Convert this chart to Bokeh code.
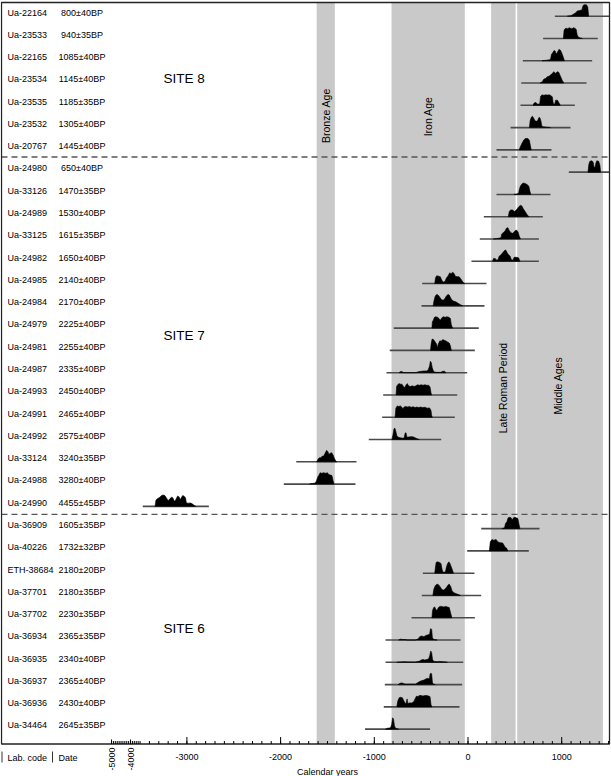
import math
from bokeh.plotting import figure
from bokeh.models import Range1d, Label
from bokeh.core.properties import value
from bokeh.embed import file_html
from bokeh.resources import INLINE

# ---------------- data ----------------
lab_codes = ["Ua-22164", "Ua-23533", "Ua-22165", "Ua-23534", "Ua-23535", "Ua-23532", "Ua-20767",
             "Ua-24980", "Ua-33126", "Ua-24989", "Ua-33125", "Ua-24982", "Ua-24985", "Ua-24984",
             "Ua-24979", "Ua-24981", "Ua-24987", "Ua-24993", "Ua-24991", "Ua-24992", "Ua-33124",
             "Ua-24988", "Ua-24990",
             "Ua-36909", "Ua-40226", "ETH-38684", "Ua-37701", "Ua-37702", "Ua-36934", "Ua-36935",
             "Ua-36937", "Ua-36936", "Ua-34464"]
dates = ["800±40BP", "940±35BP", "1085±40BP", "1145±40BP", "1185±35BP", "1305±40BP", "1445±40BP",
         "650±40BP", "1470±35BP", "1530±40BP", "1615±35BP", "1650±40BP", "2140±40BP", "2170±40BP",
         "2225±40BP", "2255±40BP", "2335±40BP", "2450±40BP", "2465±40BP", "2575±40BP", "3240±35BP",
         "3280±40BP", "4455±45BP",
         "1605±35BP", "1732±32BP", "2180±20BP", "2180±35BP", "2230±35BP", "2365±35BP", "2340±40BP",
         "2365±40BP", "2430±40BP", "2645±35BP"]
range_start = [927, 802, 585, 568, 560, 454, 304,
               1076, 304, 169, 126, 37, -489, -496, -792, -835, -870, -905, -916, -1059, -1833, -1966, -3471,
               141, -9, -482, -493, -603, -880, -880, -888, -899, -1099]
range_end = [1510, 1385, 1325, 1265, 1140, 1094, 891,
             1510, 880, 798, 756, 756, 197, 176, 115, 73, -9, -115, -141, -286, -1190, -1201, -2766,
             763, 649, 69, 141, 73, -80, -51, -62, -91, -405]

# calibrated probability profiles (calendar year, relative density)
site8_profiles = [
    [(1060, 0), (1100, 0.05), (1150, 0.3), (1165, 0.45), (1190, 0.5), (1215, 0.55), (1228, 0.95), (1240, 1.0), (1265, 1.0), (1278, 0.8), (1288, 0)],
    [(1018, 0), (1025, 0.7), (1035, 0.85), (1050, 0.9), (1065, 0.85), (1080, 0.95), (1095, 0.9), (1110, 0.85), (1125, 0.95), (1140, 0.9), (1155, 0.8), (1165, 0.3), (1180, 0.1), (1200, 0.05), (1220, 0)],
    [(790, 0), (840, 0.05), (880, 0.1), (892, 0.6), (905, 0.7), (918, 0.9), (930, 0.85), (942, 0.6), (955, 0.75), (970, 1.0), (985, 0.95), (1000, 0.7), (1015, 0.35), (1030, 0)],
    [(770, 0), (790, 0.1), (810, 0.35), (828, 0.4), (845, 0.55), (865, 0.6), (881, 0.7), (899, 0.85), (916, 1.0), (934, 0.85), (952, 1.0), (968, 0.95), (987, 0.6), (1005, 0.25), (1023, 0)],
    [(695, 0), (705, 0.2), (725, 0.25), (742, 0.1), (765, 0.12), (775, 0.8), (790, 0.92), (810, 0.88), (830, 0.92), (850, 0.9), (870, 0.92), (885, 0.85), (900, 0.75), (910, 0.15), (925, 0.1), (935, 0.45), (955, 0.45), (972, 0.2), (985, 0)],
    [(655, 0), (663, 0.6), (675, 0.9), (688, 1.0), (700, 0.85), (715, 0.6), (730, 0.55), (745, 0.65), (758, 0.9), (768, 0.85), (778, 0.6), (788, 0.15), (800, 0.08), (840, 0.04), (880, 0)],
    [(545, 0), (560, 0.3), (580, 0.65), (598, 0.9), (612, 1.0), (640, 1.0), (655, 0.85), (665, 0.4), (675, 0)],
]
site7_profiles = [
    [(1280, 0), (1290, 0.7), (1300, 0.95), (1320, 1.0), (1335, 0.9), (1345, 0.45), (1355, 0.4), (1365, 0.8), (1375, 1.0), (1395, 0.95), (1408, 0.6), (1415, 0)],
    [(490, 0), (520, 0.03), (540, 0.1), (548, 0.45), (560, 0.75), (578, 0.95), (595, 1.0), (615, 0.95), (635, 0.85), (650, 0.7), (660, 0.3), (670, 0)],
    [(430, 0), (440, 0.45), (455, 0.6), (475, 0.6), (495, 0.45), (510, 0.55), (530, 0.75), (545, 0.9), (560, 1.0), (575, 0.95), (590, 0.7), (610, 0.45), (630, 0.2), (650, 0)],
    [(270, 0), (300, 0.03), (335, 0.08), (352, 0.12), (360, 0.45), (375, 0.55), (395, 0.7), (410, 0.95), (425, 1.0), (440, 0.75), (458, 0.55), (475, 0.5), (490, 0.6), (505, 0.75), (520, 0.78), (535, 0.6), (545, 0.3), (560, 0)],
    [(262, 0), (272, 0.25), (290, 0.25), (305, 0.1), (322, 0.15), (332, 0.45), (350, 0.55), (370, 0.75), (390, 0.95), (402, 1.0), (415, 0.8), (430, 0.6), (450, 0.45), (462, 0.15), (480, 0.1), (492, 0.35), (515, 0.35), (540, 0.3), (555, 0)],
    [(-355, 0), (-347, 0.5), (-335, 0.68), (-315, 0.65), (-295, 0.6), (-280, 0.3), (-262, 0.12), (-245, 0.2), (-230, 0.5), (-215, 0.65), (-195, 0.95), (-180, 0.85), (-165, 1.0), (-150, 0.9), (-135, 0.65), (-115, 0.6), (-95, 0.6), (-80, 0.45), (-60, 0.2), (-45, 0.05), (-35, 0)],
    [(-372, 0), (-363, 0.45), (-350, 0.85), (-335, 1.0), (-320, 0.95), (-300, 0.75), (-285, 0.55), (-265, 0.5), (-250, 0.6), (-232, 0.85), (-215, 1.0), (-200, 0.95), (-185, 0.7), (-170, 0.5), (-150, 0.4), (-130, 0.35), (-110, 0.25), (-90, 0.15), (-70, 0.05), (-55, 0)],
    [(-385, 0), (-380, 0.55), (-370, 0.7), (-358, 0.95), (-345, 1.0), (-325, 0.95), (-310, 0.85), (-295, 0.7), (-280, 0.9), (-265, 1.0), (-245, 0.95), (-225, 1.0), (-205, 0.95), (-188, 0.85), (-178, 0.3), (-165, 0)],
    [(-400, 0), (-393, 0.6), (-383, 1.0), (-368, 0.95), (-350, 0.75), (-335, 0.55), (-325, 0.25), (-315, 0.6), (-300, 0.85), (-285, 0.8), (-270, 0.95), (-255, 0.9), (-240, 0.85), (-220, 0.75), (-200, 0.65), (-188, 0.4), (-178, 0)],
    [(-735, 0), (-720, 0.1), (-700, 0.08), (-685, 0), (-560, 0), (-530, 0.08), (-500, 0.12), (-470, 0.15), (-440, 0.15), (-422, 0.3), (-410, 0.6), (-402, 1.0), (-392, 0.9), (-382, 0.45), (-370, 0.15), (-355, 0.05), (-330, 0.03), (-290, 0.03), (-270, 0.12), (-250, 0.12), (-235, 0)],
    [(-768, 0), (-762, 0.75), (-750, 0.9), (-738, 1.0), (-720, 0.95), (-705, 0.95), (-690, 0.75), (-675, 0.65), (-660, 0.9), (-648, 1.0), (-635, 0.8), (-615, 0.75), (-595, 0.8), (-575, 0.75), (-555, 0.8), (-540, 0.9), (-520, 0.85), (-500, 0.9), (-480, 0.85), (-460, 0.9), (-440, 0.85), (-420, 0.85), (-405, 0.7), (-395, 0.2), (-388, 0)],
    [(-778, 0), (-770, 0.8), (-755, 1.0), (-740, 0.95), (-722, 1.0), (-708, 0.9), (-695, 0.75), (-682, 0.9), (-665, 0.95), (-645, 0.9), (-625, 0.95), (-605, 0.88), (-585, 0.92), (-565, 0.85), (-545, 0.9), (-525, 0.85), (-505, 0.9), (-485, 0.85), (-460, 0.88), (-435, 0.8), (-410, 0.82), (-395, 0.6), (-387, 0.1), (-380, 0)],
    [(-812, 0), (-800, 0.45), (-790, 0.95), (-780, 1.0), (-770, 0.7), (-760, 0.35), (-745, 0.2), (-720, 0.15), (-700, 0.12), (-680, 0.15), (-672, 0.55), (-662, 0.6), (-652, 0.2), (-635, 0.22), (-615, 0.25), (-595, 0.25), (-575, 0.2), (-555, 0.12), (-535, 0.04), (-520, 0)],
    [(-1615, 0), (-1600, 0.25), (-1585, 0.35), (-1570, 0.35), (-1555, 0.5), (-1540, 0.5), (-1525, 0.75), (-1510, 1.0), (-1495, 0.9), (-1485, 0.65), (-1470, 0.75), (-1455, 0.8), (-1440, 0.6), (-1425, 0.3), (-1410, 0.05), (-1400, 0)],
    [(-1690, 0), (-1660, 0.05), (-1635, 0.08), (-1618, 0.25), (-1605, 0.6), (-1590, 0.8), (-1578, 1.0), (-1560, 0.95), (-1540, 1.0), (-1520, 0.95), (-1500, 1.0), (-1488, 0.85), (-1470, 0.8), (-1452, 0.75), (-1440, 0.3), (-1430, 0)],
    [(-3340, 0), (-3330, 0.55), (-3310, 0.7), (-3290, 0.8), (-3270, 0.95), (-3255, 1.0), (-3235, 0.95), (-3215, 0.7), (-3200, 0.5), (-3185, 0.65), (-3165, 0.8), (-3150, 0.75), (-3135, 0.45), (-3120, 0.55), (-3100, 0.9), (-3085, 0.85), (-3070, 0.6), (-3060, 0.75), (-3045, 0.95), (-3030, 0.9), (-3015, 0.75), (-3005, 0.3), (-2985, 0.28), (-2960, 0.3), (-2940, 0.2), (-2920, 0.08), (-2905, 0)],
]
site6_profiles = [
    [(362, 0), (390, 0.08), (400, 0.45), (415, 0.6), (428, 0.95), (445, 1.0), (460, 0.95), (472, 0.75), (485, 0.95), (500, 1.0), (515, 0.95), (532, 0.9), (545, 0.35), (555, 0)],
    [(228, 0), (238, 0.8), (255, 1.0), (275, 0.95), (300, 1.0), (318, 0.8), (335, 0.75), (350, 0.72), (370, 0.7), (388, 0.45), (400, 0.3), (412, 0.25), (425, 0)],
    [(-355, 0), (-348, 0.5), (-340, 0.95), (-325, 1.0), (-305, 0.95), (-288, 0.85), (-278, 0.4), (-268, 0.1), (-255, 0.08), (-240, 0.15), (-230, 0.55), (-220, 0.8), (-205, 1.0), (-195, 0.9), (-180, 0.6), (-167, 0.3), (-155, 0)],
    [(-375, 0), (-365, 0.55), (-350, 0.85), (-330, 1.0), (-315, 0.95), (-300, 0.8), (-285, 0.6), (-265, 0.45), (-250, 0.55), (-235, 0.65), (-215, 0.9), (-200, 1.0), (-185, 0.8), (-170, 0.4), (-150, 0.25), (-125, 0.15), (-100, 0.08), (-80, 0)],
    [(-385, 0), (-378, 0.65), (-366, 0.9), (-355, 0.95), (-342, 0.7), (-332, 0.65), (-315, 0.9), (-300, 1.0), (-280, 1.0), (-260, 0.95), (-240, 1.0), (-220, 0.95), (-200, 0.9), (-188, 0.5), (-172, 0)],
    [(-740, 0), (-722, 0.08), (-700, 0.05), (-670, 0.05), (-650, 0), (-560, 0), (-530, 0.12), (-515, 0.3), (-495, 0.35), (-470, 0.3), (-450, 0.4), (-432, 0.45), (-410, 0.5), (-400, 1.0), (-388, 0.95), (-380, 0.2), (-365, 0.05), (-330, 0)],
    [(-760, 0), (-720, 0.03), (-680, 0.04), (-640, 0.03), (-560, 0.02), (-520, 0.1), (-500, 0.2), (-480, 0.25), (-460, 0.2), (-440, 0.25), (-420, 0.3), (-408, 0.6), (-398, 1.0), (-388, 0.85), (-378, 0.2), (-360, 0.08), (-330, 0.05), (-300, 0.08), (-270, 0.05), (-240, 0.03), (-220, 0)],
    [(-745, 0), (-725, 0.12), (-705, 0.15), (-690, 0.1), (-670, 0.05), (-650, 0.05), (-620, 0.05), (-560, 0.05), (-530, 0.2), (-510, 0.3), (-490, 0.35), (-470, 0.4), (-450, 0.5), (-430, 0.55), (-412, 0.5), (-405, 0.9), (-398, 1.0), (-388, 0.95), (-380, 0.2), (-368, 0.03), (-350, 0)],
    [(-760, 0), (-750, 0.5), (-735, 0.8), (-720, 0.85), (-700, 0.8), (-685, 0.55), (-670, 0.3), (-660, 0.35), (-650, 0.7), (-642, 0.3), (-625, 0.35), (-600, 0.35), (-580, 0.45), (-565, 0.7), (-550, 0.95), (-535, 0.9), (-520, 1.0), (-500, 1.0), (-480, 0.95), (-460, 1.0), (-440, 1.0), (-420, 0.95), (-405, 0.9), (-395, 0.2), (-385, 0)],
    [(-880, 0), (-860, 0.08), (-840, 0.1), (-825, 0.15), (-815, 0.4), (-805, 1.0), (-795, 0.9), (-785, 0.3), (-775, 0.1), (-760, 0.03), (-740, 0)],
]
site_names = ["SITE 8", "SITE 7", "SITE 6"]
period_names = ["Bronze Age", "Iron Age", "Late Roman Period", "Middle Ages"]
period_start = [-1615, -816, 247, 525]
period_end = [-1421, -34, 508, 1440]
major_ticks = [-3000, -2000, -1000, 0, 1000]
compressed_tick_labels = [-5000, -4000]

# ---------------- layout (pixel geometry of the page) ----------------
FONT = "Liberation Sans"
W, H = 611, 776
PX_PER_YEAR = 0.0937
ZERO_PX = 467.5          # page x of year 0
ROW_PX = 22.28           # vertical distance between rows
ROW0_PX = 15.7           # page y of the first baseline


def dx(px):
    return (px - ZERO_PX) / PX_PER_YEAR


def dy(py):
    return (py - ROW0_PX) / ROW_PX


BOX_L, BOX_R, BOX_T, BOX_B = dx(1), dx(609), dy(2), dy(743.5)
COMPRESS = 0.203  # broken-axis scale for the -5000..-3500 stretch


def compressed(yr):
    return -3500 + (yr + 3500) * COMPRESS


PEAK = 0.51  # row units for relative density 1.0

p = figure(width=W, height=H, output_backend="svg", toolbar_location=None,
           x_range=Range1d(dx(0), dx(W)), y_range=Range1d(dy(H), dy(0)),
           min_border=0, x_axis_location=None, y_axis_location=None)
p.grid.visible = False
p.outline_line_color = None
p.background_fill_color = "white"
p.border_fill_color = "white"

# period bands
p.quad(left=period_start, right=period_end, bottom=BOX_B, top=BOX_T,
       fill_color="#c9c9c9", line_color=None)

# range lines and profiles
profiles = site8_profiles + site7_profiles + site6_profiles
rows = list(range(len(lab_codes)))
p.segment(x0=range_start, x1=range_end, y0=rows, y1=rows, line_color="#4a4a4a", line_width=1.6)
xs = [[pt[0] for pt in prof] for prof in profiles]
ys = [[r - pt[1] * PEAK for pt in prof] for r, prof in zip(rows, profiles)]
p.patches(xs=xs, ys=ys, fill_color="black", line_color="black", line_width=0.6)

# site separators
seps = [6.32, 22.36]
p.segment(x0=[BOX_L] * 2, x1=[BOX_R] * 2, y0=seps, y1=seps, line_color="#555555",
          line_dash="6 4", line_width=1.3)

# plot box (frame) with axis line at its bottom
p.quad(left=[BOX_L], right=[BOX_R], top=[BOX_T], bottom=[BOX_B], fill_color=None,
       line_color="#222222", line_width=1.3)

# table labels
TXT_DY = 3.7 / ROW_PX
p.text(x=[dx(7)] * len(rows), y=[r - TXT_DY for r in rows], text=lab_codes,
       text_font=value(FONT), text_font_size="9px", text_baseline="middle", text_align="left",
       text_color="black")
p.text(x=[dx(81.5)] * len(rows), y=[r - TXT_DY for r in rows], text=dates,
       text_font=value(FONT), text_font_size="9px", text_baseline="middle", text_align="center",
       text_color="black")

# site names
p.text(x=[dx(163)] * 3, y=[2.80, 14.33, 27.48], text=site_names,
       text_font=value(FONT), text_font_size="13.5px", text_baseline="middle", text_align="left",
       text_color="black")

# period names (vertical)
period_label_rows = [4.46, 4.5, 16.69, 16.58]
period_label_shift = [0, 0, 0, -25]
for name, s, e, r, sh in zip(period_names, period_start, period_end, period_label_rows, period_label_shift):
    p.add_layout(Label(x=(s + e) / 2 + sh, y=r, text=name, angle=math.pi / 2,
                       text_align="center", text_baseline="middle",
                       text_font=FONT, text_font_size="10.5px", text_color="black"))

# x axis ticks (pointing into the box)
real_minor = [v for v in range(-3500, 1501, 100)]
comp_minor = [compressed(v) for v in range(-5000, -3500, 100)]
comp_major = [compressed(v) for v in compressed_tick_labels]
MAJ, MIN_, CMAJ = 7 / ROW_PX, 3 / ROW_PX, 4.5 / ROW_PX
p.segment(x0=major_ticks, x1=major_ticks, y0=[BOX_B] * len(major_ticks),
          y1=[BOX_B - MAJ] * len(major_ticks), line_color="black", line_width=1)
minor_all = real_minor + comp_minor
p.segment(x0=minor_all, x1=minor_all, y0=[BOX_B] * len(minor_all),
          y1=[BOX_B - MIN_] * len(minor_all), line_color="black", line_width=1)
p.segment(x0=comp_major, x1=comp_major, y0=[BOX_B] * 2, y1=[BOX_B - CMAJ] * 2,
          line_color="black", line_width=1)

# tick labels
p.text(x=major_ticks, y=[dy(756)] * len(major_ticks), text=[str(t) for t in major_ticks],
       text_font=value(FONT), text_font_size="9px", text_baseline="middle", text_align="center",
       text_color="black")
p.text(x=comp_major, y=[dy(758.5)] * 2, text=[str(t) for t in compressed_tick_labels],
       angle=math.pi / 2, text_font=value(FONT), text_font_size="9px",
       text_baseline="middle", text_align="center", text_color="black")

# axis title and table headers
p.text(x=[dx(327)], y=[dy(771)], text=["Calendar years"], text_font=value(FONT),
       text_font_size="9px", text_baseline="middle", text_align="center", text_color="black")
p.text(x=[dx(7), dx(58)], y=[dy(757)] * 2, text=["Lab. code", "Date"], text_font=value(FONT),
       text_font_size="9px", text_baseline="middle", text_align="left", text_color="black")
p.segment(x0=[dx(1.5), dx(52)], x1=[dx(1.5), dx(52)], y0=[dy(751)] * 2, y1=[dy(762)] * 2,
          line_color="#333333", line_width=1)

open("out.html", "w").write(file_html(p, INLINE))
